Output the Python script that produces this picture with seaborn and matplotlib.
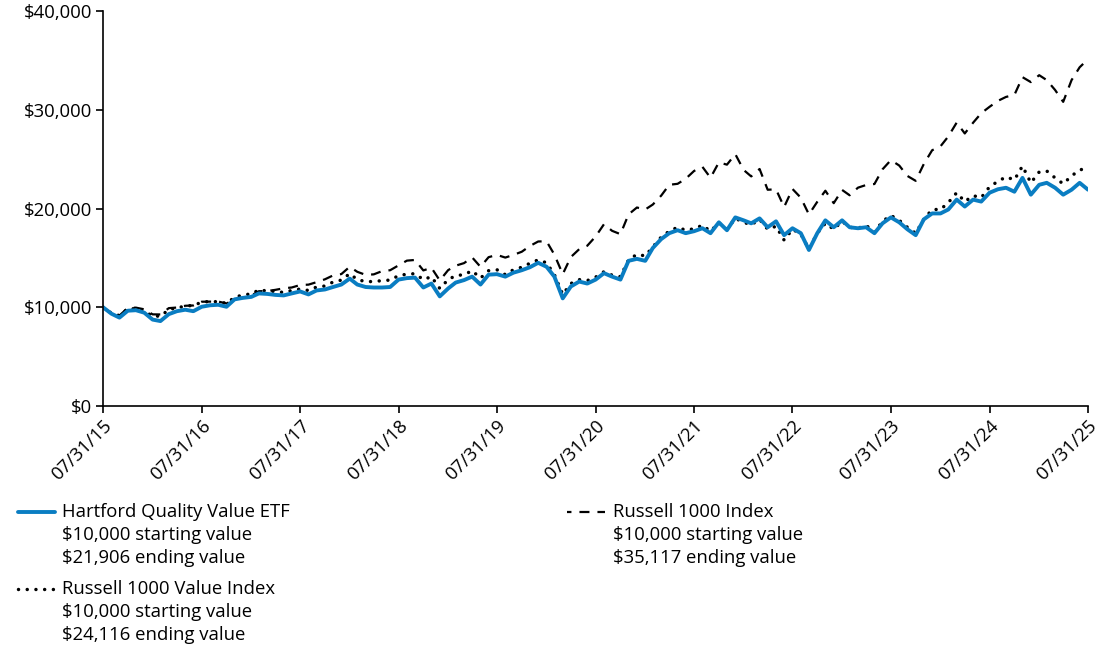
import numpy as np
import pandas as pd
import matplotlib
matplotlib.use("Agg")
import matplotlib.pyplot as plt
import matplotlib.dates as mdates
from matplotlib.lines import Line2D
from matplotlib.ticker import FuncFormatter
import seaborn as sns

# Monthly growth of $10,000, 07/31/15 - 07/31/25
dates = pd.date_range("2015-07-31", "2025-07-31", freq="ME")

fund_values = [
    10000, 9350, 8950, 9650, 9700, 9450, 8750, 8600, 9300, 9600, 9750, 9600,
    10050, 10200, 10250, 10050, 10800, 10950, 11050, 11400, 11350, 11250, 11200, 11400,
    11600, 11300, 11700, 11800, 12050, 12300, 12900, 12300, 12050, 12000, 12000, 12050,
    12800, 12950, 13000, 12000, 12400, 11100, 11900, 12500, 12750, 13100, 12300, 13300,
    13350, 13100, 13500, 13750, 14050, 14500, 14100, 13100, 10900, 12100, 12600, 12400,
    12800, 13450, 13100, 12800, 14700, 14900, 14700, 16000, 16900, 17500, 17800, 17500,
    17700, 18000, 17500, 18600, 17800, 19100, 18800, 18500, 19000, 18100, 18700, 17300,
    18000, 17500, 15800, 17500, 18800, 18100, 18800, 18100, 18000, 18100, 17500, 18500,
    19100, 18600, 17900, 17300, 18900, 19500, 19500, 19900, 20900, 20200, 20900, 20700,
    21600, 21950, 22100, 21700, 23100, 21400, 22400, 22600, 22100, 21400, 21900, 22600,
    21906,
]

value_index = [
    10000, 9400, 9150, 9850, 9850, 9600, 9100, 9100, 9750, 9950, 10100, 10200,
    10500, 10600, 10550, 10400, 11000, 11250, 11350, 11750, 11650, 11600, 11500, 11700,
    11850, 11700, 12050, 12150, 12550, 12750, 13400, 12800, 12600, 12600, 12700, 12750,
    13200, 13350, 13400, 12800, 13100, 11900, 12800, 13200, 13300, 13700, 12950, 13700,
    13800, 13300, 13800, 14050, 14450, 14800, 14500, 13300, 11300, 12400, 12800, 12700,
    13050, 13600, 13250, 13100, 14800, 15350, 15200, 16100, 17100, 17700, 18100, 17800,
    17950, 18300, 17700, 18550, 17900, 19000, 18600, 18350, 18900, 17900, 18200, 16800,
    17900, 17400, 15900, 17500, 18500, 17900, 18700, 18100, 18000, 18300, 17600, 18700,
    19300, 18800, 18100, 17500, 18900, 19900, 19900, 20600, 21600, 20700, 21300, 21100,
    22200, 22750, 23200, 22900, 24300, 22600, 23700, 23800, 23100, 22500, 23300, 23900,
    24116,
]

broad_index = [
    10000, 9400, 9160, 9930, 9960, 9790, 9280, 9270, 9910, 9970, 10150, 10180,
    10560, 10570, 10580, 10380, 10780, 10980, 11190, 11620, 11640, 11760, 11920, 12000,
    12250, 12290, 12540, 12830, 13220, 13360, 14100, 13590, 13280, 13330, 13660, 13750,
    14240, 14720, 14790, 13730, 14000, 12710, 13760, 14210, 14470, 15050, 14090, 15070,
    15300, 15030, 15300, 15620, 16200, 16660, 16680, 15330, 13350, 15080, 15880, 16230,
    17170, 18410, 17740, 17400, 19400, 20100, 19900, 20400, 21300, 22400, 22500, 23010,
    23800, 24220, 23110, 24670, 24440, 25500, 23900, 23250, 24000, 21900, 21940, 20150,
    21980, 21090, 19400, 20680, 21800, 20540, 21880, 21340, 22110, 22380, 22480, 23970,
    24900, 24350, 23300, 22800, 24500, 25900, 26300, 27300, 28700, 27600, 28690, 29650,
    30300, 30900, 31300, 31500, 33300, 32800, 33500, 33000, 32000, 30800, 33000, 34300,
    35117,
]

series_names = ["Hartford Quality Value ETF", "Russell 1000 Value Index", "Russell 1000 Index"]
start_labels = ["$10,000 starting value"] * 3
end_labels = ["$21,906 ending value", "$24,116 ending value", "$35,117 ending value"]

tick_dates = pd.date_range("2015-07-31", "2025-07-31", freq="12ME")

df = pd.DataFrame({
    "date": dates,
    "fund": fund_values,
    "value": value_index,
    "broad": broad_index,
})

sns.set_style("ticks")
plt.rcParams["font.family"] = ["Open Sans", "DejaVu Sans"]
plt.rcParams["text.parse_math"] = False

fig = plt.figure(figsize=(11, 6.53), dpi=100)
ax = fig.add_axes([103 / 1100, 1 - 406 / 653, 985 / 1100, 395 / 653])

blue = "#0A7DC2"
font_size = 13.3

# Russell 1000 Index (dashed)
sns.lineplot(data=df, x="date", y="broad", ax=ax, color="black", linewidth=1.6,
             linestyle=(0, (4.5, 3.6)))
# Russell 1000 Value Index (dotted)
sns.lineplot(data=df, x="date", y="value", ax=ax, color="black", linewidth=2.5,
             linestyle=(0, (0.01, 2.5)), dash_capstyle="round")
# Fund (solid blue)
sns.lineplot(data=df, x="date", y="fund", ax=ax, color=blue, linewidth=2.8)

ax.set_xlim(dates[0], dates[-1])
ax.set_ylim(0, 40000)
ax.set_yticks([0, 10000, 20000, 30000, 40000])
ax.yaxis.set_major_formatter(FuncFormatter(lambda v, p: f"${v:,.0f}"))
ax.set_xticks(tick_dates)
ax.xaxis.set_major_formatter(mdates.DateFormatter("%m/%d/%y"))
ax.set_xlabel("")
ax.set_ylabel("")

for side in ["top", "right"]:
    ax.spines[side].set_visible(False)
for side in ["left", "bottom"]:
    ax.spines[side].set_linewidth(1.2)
    ax.spines[side].set_color("black")

ax.tick_params(axis="both", direction="out", length=5, width=1.2, colors="black",
               labelsize=font_size, pad=3)
for lbl in ax.get_xticklabels():
    lbl.set_rotation(45)
    lbl.set_ha("right")
    lbl.set_rotation_mode("anchor")

# Legend below the plot
W, H = 1100, 653
line_gap = 23


def legend_item(x_line, x_text, y_top, handle_kw, lines):
    fig.add_artist(Line2D([x_line[0] / W, x_line[1] / W], [1 - y_top / H, 1 - y_top / H],
                          transform=fig.transFigure, **handle_kw))
    for i, t in enumerate(lines):
        fig.text(x_text / W, 1 - (y_top + i * line_gap) / H, t, fontsize=font_size,
                 va="center", ha="left", color="black")


legend_item((18, 55), 62, 512, dict(color=blue, linewidth=2.8),
            [series_names[0], start_labels[0], end_labels[0]])
legend_item((18, 55), 62, 589, dict(color="black", linewidth=2.5,
                                    linestyle=(0, (0.01, 2.5)), dash_capstyle="round"),
            [series_names[1], start_labels[1], end_labels[1]])
legend_item((567, 605), 613, 512, dict(color="black", linewidth=1.6,
                                       linestyle=(2.5, (4.5, 3.6))),
            [series_names[2], start_labels[2], end_labels[2]])

fig.savefig("out.png", dpi=100)
